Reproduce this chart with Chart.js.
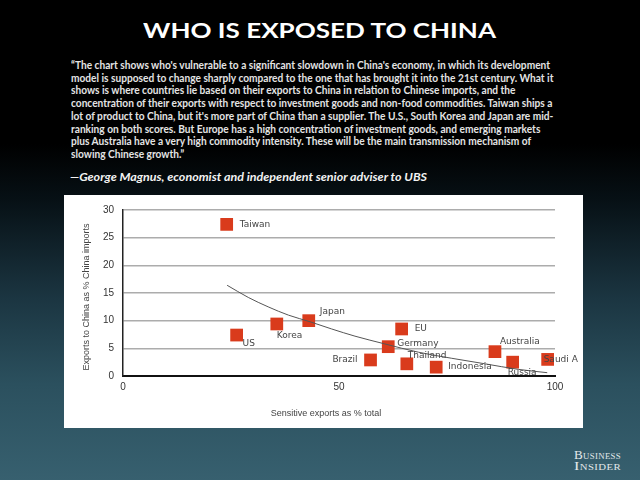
<!DOCTYPE html>
<html>
<head>
<meta charset="utf-8">
<script src="https://cdn.jsdelivr.net/npm/chart.js@4/dist/chart.umd.min.js"></script>
<style>
  html, body { margin: 0; padding: 0; }
  body {
    width: 640px; height: 480px; overflow: hidden; position: relative;
    background: linear-gradient(to bottom, #000 0%, #000 30%, #071116 42%, #1b3541 62%, #2b505e 80%, #37606f 100%);
    font-family: Lato, "Open Sans", sans-serif;
  }
  .fit { position: absolute; white-space: nowrap; transform-origin: left center; }
  #title { left: 143px; top: 17px; font-size: 21px; line-height: 26px; font-weight: 700; color: #fff; }
  .quote { left: 71px; font-size: 10.5px; line-height: 12px; font-weight: 700; color: #e4e4e4; }
  #author { left: 70px; top: 169px; font-size: 12px; line-height: 16px; font-weight: 700; font-style: italic; color: #f2f2f2; }
  .logo { left: 574px; font-family: "Liberation Serif", "DejaVu Serif", serif; font-variant: small-caps;
          font-size: 12px; line-height: 11px; color: #e3e9eb; letter-spacing: 0.3px; }
  #panel { position: absolute; left: 64px; top: 195px; width: 519px; height: 233px; background: #fff; }
</style>
</head>
<body>
<div id="title" class="fit">WHO IS EXPOSED TO CHINA</div>
<div id="quote"></div>
<div id="author" class="fit">—George Magnus, economist and independent senior adviser to UBS</div>
<div class="fit logo" style="top:450px">Business</div>
<div class="fit logo" style="top:461px">Insider</div>
<div id="panel"><canvas id="chart" width="519" height="233"></canvas></div>

<script>
// countries and their two shares
const countries = ['Taiwan', 'US', 'Korea', 'Japan', 'EU', 'Germany', 'Brazil', 'Thailand', 'Indonesia', 'Australia', 'Russia', 'Saudi A'];
const sensitiveShare = [24.0, 26.3, 35.6, 43.0, 64.5, 61.4, 57.3, 65.7, 72.5, 86.1, 90.2, 98.3];
const chinaShare = [27.4, 7.4, 9.4, 10.0, 8.5, 5.3, 2.9, 2.2, 1.6, 4.4, 2.5, 3.0];

// trend curve as drawn
const trendX = [24.1, 29.0, 33.6, 38.3, 43.3, 48.3, 53.7, 60.6, 68.4, 76.1, 83.8, 91.5, 98.2];
const trendY = [16.4, 14.2, 12.5, 11.0, 9.8, 8.5, 7.2, 5.8, 4.3, 3.2, 2.2, 1.2, 0.6];

const xTicks = [0, 50, 100];
const yTicks = [0, 5, 10, 15, 20, 25, 30];

const quoteLines = [
  '\u201cThe chart shows who\'s vulnerable to a significant slowdown in China\'s economy, in which its development',
  'model is supposed to change sharply compared to the one that has brought it into the 21st century. What it',
  'shows is where countries lie based on their exports to China in relation to Chinese imports, and the',
  'concentration of their exports with respect to investment goods and non-food commodities. Taiwan ships a',
  'lot of product to China, but it\'s more part of China than a supplier. The U.S., South Korea and Japan are mid-',
  'ranking on both scores. But Europe has a high concentration of investment goods, and emerging markets',
  'plus Australia have a very high commodity intensity. These will be the main transmission mechanism of',
  'slowing Chinese growth.\u201d'
];

// label offsets from each square: dx, dy, alignment
const labelPlacement = [
  [13, 0, 'left'], [6, 9, 'left'], [0, 12, 'left'], [11, -9, 'left'],
  [13, 0, 'left'], [9, -3, 'left'], [-13, 0, 'right'], [1, -8, 'left'],
  [12, 0, 'left'], [5, -10, 'left'], [-5, 10, 'left'], [-4, 0, 'left']
];

const quoteBox = document.getElementById('quote');
quoteLines.forEach((line, i) => {
  const d = document.createElement('div');
  d.className = 'fit quote';
  d.style.top = (59 + i * 12.7) + 'px';
  d.textContent = line;
  quoteBox.appendChild(d);
});

function fitTo(el, target) {
  const w = el.getBoundingClientRect().width;
  if (w > 0) el.style.transform = 'scaleX(' + (target / w) + ')';
  return target / w;
}

const quoteFit = fitTo(quoteBox.children[0], 479);
for (let i = 1; i < quoteBox.children.length; i++) {
  quoteBox.children[i].style.transform = 'scaleX(' + quoteFit + ')';
}
fitTo(document.getElementById('title'), 353);
fitTo(document.getElementById('author'), 357);
document.querySelectorAll('.logo').forEach(el => fitTo(el, 47));

const pointLabels = {
  id: 'pointLabels',
  afterDatasetsDraw(chart) {
    const ctx = chart.ctx;
    const meta = chart.getDatasetMeta(0);
    ctx.save();
    ctx.font = '9px "DejaVu Sans"';
    ctx.fillStyle = '#444';
    ctx.textBaseline = 'middle';
    meta.data.forEach((pt, i) => {
      const [dx, dy, align] = labelPlacement[i];
      ctx.textAlign = align;
      ctx.fillText(countries[i], pt.x + dx, pt.y + dy);
    });
    ctx.restore();
  }
};

const axisTitles = {
  id: 'axisTitles',
  afterDraw(chart) {
    const ctx = chart.ctx;
    ctx.save();
    ctx.font = '9px "Liberation Sans"';
    ctx.fillStyle = '#444';
    ctx.textAlign = 'center';
    ctx.textBaseline = 'middle';
    ctx.fillText('Sensitive exports as % total', 262, 219);
    ctx.translate(23, 102);
    ctx.rotate(-Math.PI / 2);
    ctx.fillText('Exports to China as % China imports', 0, 0);
    ctx.restore();
  }
};

new Chart(document.getElementById('chart'), {
  type: 'scatter',
  data: {
    datasets: [{
      label: 'Countries',
      data: countries.map((c, i) => ({ x: sensitiveShare[i], y: chinaShare[i] })),
      backgroundColor: '#d93b1c',
      borderWidth: 0,
      pointStyle: 'rect',
      pointRadius: 9,
      order: 2
    }, {
      label: 'Trend',
      data: trendX.map((x, i) => ({ x: x, y: trendY[i] })),
      showLine: true,
      borderColor: '#555',
      borderWidth: 1,
      pointRadius: 0,
      cubicInterpolationMode: 'monotone',
      order: 1
    }]
  },
  options: {
    responsive: false,
    animation: false,
    layout: { padding: { top: 10, right: 28, left: 0, bottom: 0 } },
    plugins: { legend: { display: false }, tooltip: { enabled: false } },
    scales: {
      x: {
        type: 'linear', min: 0, max: 100,
        afterFit: s => { s.height = 52; },
        afterBuildTicks: s => { s.ticks = xTicks.map(v => ({ value: v })); },
        grid: { display: false, drawTicks: false },
        border: { color: '#111', width: 2 },
        ticks: { padding: 5, color: '#333', font: { family: 'Liberation Sans', size: 10 } }
      },
      y: {
        type: 'linear', min: 0, max: 30,
        afterFit: s => { s.width = 59; },
        afterBuildTicks: s => { s.ticks = yTicks.map(v => ({ value: v })); },
        grid: { color: '#acacac', lineWidth: 1.5, drawTicks: false },
        border: { color: '#222', width: 1.5 },
        ticks: { padding: 9, color: '#333', font: { family: 'Liberation Sans', size: 10 } }
      }
    }
  },
  plugins: [pointLabels, axisTitles]
});
</script>
</body>
</html>
